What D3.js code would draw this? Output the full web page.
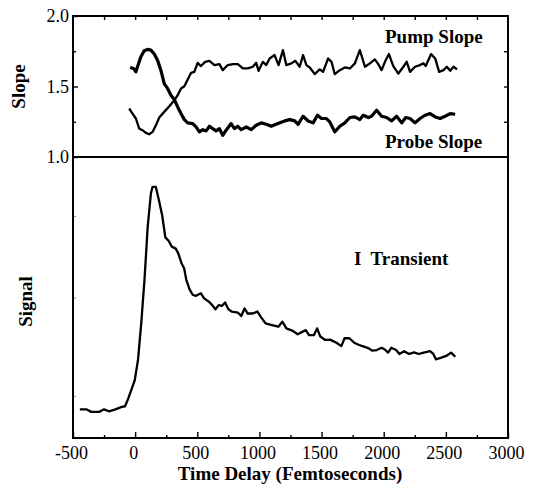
<!DOCTYPE html>
<html><head><meta charset="utf-8">
<script src="https://cdn.jsdelivr.net/npm/d3@7"></script>
<style>
body{margin:0;background:#fff;}
svg{display:block;}
</style></head>
<body>
<script>
// ---- data ----
const xMajorTicks = [-500,0,500,1000,1500,2000,2500,3000];
const xMinorTicks = [-250,250,750,1250,1750,2250,2750];
const slopeMajorTicks = [1.0,1.5,2.0];
const slopeMinorTicks = [1.25,1.75];
const signalTicks = [1.5,5.0,7.9];

// probe slope (starts high near 1.64, ends ~1.3)
const probeT = [-40,-13,6,24,46,73,100,127,154,180,207,234,261,288,315,342,369,396,423,463,490,517,544,571,598,624,651,678,705,732,772,799,826,853,894,934,974,1015,1055,1095,1149,1203,1243,1284,1311,1351,1391,1432,1467,1499,1539,1566,1606,1647,1687,1728,1768,1808,1835,1876,1902,1943,1983,2023,2064,2104,2145,2177,2212,2252,2292,2333,2373,2414,2454,2494,2535,2575];
const probeV = [1.635,1.628,1.604,1.652,1.711,1.754,1.763,1.758,1.73,1.687,1.616,1.521,1.486,1.438,1.408,1.355,1.308,1.265,1.242,1.237,1.213,1.178,1.194,1.185,1.218,1.201,1.185,1.201,1.154,1.19,1.237,1.201,1.218,1.194,1.213,1.194,1.225,1.242,1.232,1.218,1.237,1.256,1.265,1.256,1.232,1.289,1.256,1.242,1.296,1.273,1.273,1.249,1.178,1.218,1.242,1.28,1.284,1.265,1.296,1.28,1.289,1.332,1.289,1.28,1.256,1.289,1.242,1.28,1.273,1.242,1.273,1.296,1.308,1.284,1.273,1.289,1.308,1.303];

// pump slope (starts low near 1.34, ends ~1.63)
const pumpT = [-48,-21,6,33,59,86,113,140,167,194,234,275,315,342,369,396,423,450,476,503,530,563,598,638,678,705,745,786,826,867,907,947,974,993,1028,1055,1082,1122,1154,1189,1216,1257,1289,1324,1351,1378,1405,1445,1485,1512,1553,1580,1606,1647,1687,1728,1768,1808,1849,1889,1929,1956,1983,2010,2042,2077,2118,2158,2185,2212,2252,2292,2319,2338,2381,2414,2446,2481,2508,2535,2562,2590];
const pumpV = [1.344,1.308,1.273,1.201,1.19,1.171,1.161,1.178,1.225,1.28,1.32,1.36,1.403,1.438,1.486,1.502,1.55,1.597,1.604,1.668,1.645,1.675,1.682,1.652,1.659,1.616,1.652,1.659,1.659,1.628,1.628,1.64,1.668,1.611,1.675,1.652,1.699,1.723,1.652,1.758,1.652,1.664,1.682,1.64,1.723,1.652,1.635,1.588,1.621,1.604,1.699,1.675,1.588,1.616,1.635,1.628,1.664,1.758,1.64,1.664,1.692,1.659,1.616,1.675,1.73,1.645,1.592,1.64,1.675,1.604,1.64,1.652,1.664,1.645,1.73,1.699,1.604,1.616,1.64,1.611,1.64,1.621];

// I transient signal (arbitrary units)
const signalT = [-445,-393,-354,-289,-250,-211,-159,-107,-81,-55,-3,23,49,75,101,127,140,166,191,217,243,269,295,327,347,373,394,412,438,464,490,529,555,594,620,646,672,698,724,750,776,828,854,880,906,945,984,1010,1049,1100,1152,1184,1217,1269,1308,1334,1373,1399,1438,1464,1490,1529,1568,1620,1659,1685,1724,1763,1802,1841,1880,1906,1945,1983,2009,2035,2061,2100,2126,2165,2204,2243,2282,2321,2373,2399,2420,2464,2503,2542,2576];
const signalV = [1.02,1.02,0.93,0.93,1.02,0.95,1.02,1.11,1.13,1.41,2.06,2.78,4.08,5.62,7.52,8.71,8.94,8.94,8.47,7.94,7.14,7.02,6.81,6.74,6.57,6.22,6.04,5.62,5.29,5.09,5.06,5.15,4.97,4.85,4.73,4.58,4.73,4.70,4.82,4.58,4.50,4.46,4.34,4.61,4.43,4.43,4.50,4.32,4.08,4.02,3.96,4.14,3.90,3.81,3.69,3.75,3.84,3.66,3.66,3.90,3.61,3.49,3.50,3.39,3.27,3.55,3.55,3.39,3.31,3.25,3.19,3.11,3.13,3.21,3.15,3.04,3.21,3.13,2.99,3.09,2.99,3.05,2.99,3.04,3.09,2.99,2.80,2.86,2.92,3.04,2.89];

// ---- drawing ----
const W = 540, H = 500;
const L = 73, R = 508, T = 16, MID = 157, B = 438;
const SERIF = '"Liberation Serif","Times New Roman",Times,serif';

const svg = d3.select("body").append("svg").attr("width", W).attr("height", H)
  .attr("font-family", SERIF);

const x = d3.scaleLinear().domain([-500, 3000]).range([L, R]);
const ySlope = d3.scaleLinear().domain([1, 2]).range([MID, T]);
const ySig = d3.scaleLinear().domain([0, 10]).range([B, MID]);

function styleAxis(g){
  g.attr("font-family", SERIF).attr("font-size", 18);
  g.select(".domain").remove();
  g.selectAll(".tick line").attr("stroke", "#000").attr("stroke-width", 1.4);
  g.selectAll(".tick text").attr("fill", "#000");
}

// bottom axis (inward ticks)
svg.append("g").attr("transform", `translate(0,${B})`)
  .call(d3.axisBottom(x).tickValues(xMajorTicks).tickSize(-6).tickPadding(8).tickFormat(d => String(d)))
  .call(styleAxis)
  .call(g => g.selectAll(".tick text").attr("dx", -2));
svg.append("g").attr("transform", `translate(0,${B})`)
  .call(d3.axisBottom(x).tickValues(xMinorTicks).tickSize(-3).tickFormat(""))
  .call(styleAxis);

// top axis ticks
svg.append("g").attr("transform", `translate(0,${T})`)
  .call(d3.axisTop(x).tickValues(xMajorTicks.concat(xMinorTicks).filter(d => d > -500 && d < 3000)).tickSize(-4).tickFormat(""))
  .call(styleAxis);

// left slope axis
svg.append("g").attr("transform", `translate(${L},0)`)
  .call(d3.axisLeft(ySlope).tickValues(slopeMajorTicks).tickSize(-5).tickPadding(4).tickFormat(d3.format(".1f")))
  .call(styleAxis);
svg.append("g").attr("transform", `translate(${L},0)`)
  .call(d3.axisLeft(ySlope).tickValues(slopeMinorTicks).tickSize(-3).tickFormat(""))
  .call(styleAxis);
// right slope ticks
svg.append("g").attr("transform", `translate(${R},0)`)
  .call(d3.axisRight(ySlope).tickValues([1.25,1.5,1.75]).tickSize(-4).tickFormat(""))
  .call(styleAxis);
// left signal ticks (faint)
svg.append("g").attr("transform", `translate(${L},0)`)
  .call(d3.axisLeft(ySig).tickValues(signalTicks).tickSize(-3).tickFormat(""))
  .call(styleAxis)
  .call(g => g.selectAll(".tick line").attr("stroke", "#888").attr("stroke-width", 1));

// frame
svg.append("rect").attr("x", L).attr("y", T).attr("width", R - L).attr("height", B - T)
  .attr("fill", "none").attr("stroke", "#000").attr("stroke-width", 2);
svg.append("line").attr("x1", L).attr("x2", R).attr("y1", ySlope(1)).attr("y2", ySlope(1))
  .attr("stroke", "#000").attr("stroke-width", 2.2);

// lines
const lineSlope = d3.line().x(d => x(d[0])).y(d => ySlope(d[1]));
const lineSig = d3.line().x(d => x(d[0])).y(d => ySig(d[1]));

svg.append("path").datum(d3.zip(probeT, probeV)).attr("d", lineSlope)
  .attr("fill", "none").attr("stroke", "#000").attr("stroke-width", 3.2).attr("stroke-linejoin", "round");
svg.append("path").datum(d3.zip(pumpT, pumpV)).attr("d", lineSlope)
  .attr("fill", "none").attr("stroke", "#000").attr("stroke-width", 2.3).attr("stroke-linejoin", "round");
svg.append("path").datum(d3.zip(signalT, signalV)).attr("d", lineSig)
  .attr("fill", "none").attr("stroke", "#000").attr("stroke-width", 2.3).attr("stroke-linejoin", "round");

// annotations
function bold(sel){ return sel.attr("font-weight", "bold").attr("font-size", 19).attr("fill", "#000"); }
bold(svg.append("text").attr("x", 385).attr("y", 43)).text("Pump Slope");
bold(svg.append("text").attr("x", 385).attr("y", 148)).text("Probe Slope");
bold(svg.append("text").attr("x", 354).attr("y", 265)).attr("xml:space", "preserve").text("I  Transient");

// axis titles
bold(svg.append("text").attr("transform", `translate(25,${(T + MID) / 2}) rotate(-90)`)
  .attr("text-anchor", "middle")).text("Slope");
bold(svg.append("text").attr("transform", `translate(32,${(MID + B) / 2 + 4}) rotate(-90)`)
  .attr("text-anchor", "middle")).text("Signal");
bold(svg.append("text").attr("x", 290).attr("y", 480)
  .attr("text-anchor", "middle")).text("Time Delay (Femtoseconds)");
</script>
</body></html>
